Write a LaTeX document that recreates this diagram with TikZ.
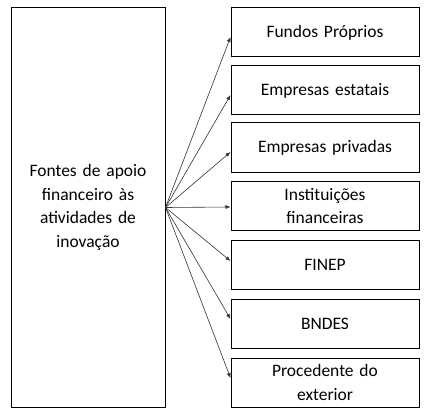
\documentclass[tikz,border=0pt]{standalone}
\usepackage{fontspec}
\setmainfont{Carlito}
\usetikzlibrary{arrows.meta}

\begin{document}
\begin{tikzpicture}[x=1pt, y=-1pt,
    src/.style={draw, line width=1pt, minimum width=154pt, minimum height=399pt,
                text width=150pt, align=center, inner sep=0pt,
                font=\fontsize{17.5}{23.5}\selectfont},
    dst/.style={draw, line width=1pt, minimum width=188pt, minimum height=49pt,
                text width=184pt, align=center, inner sep=0pt,
                font=\fontsize{17.5}{23.5}\selectfont},
    link/.style={-{Latex[length=5pt, width=4pt]}, line width=0.6pt, black!80},
]
    \useasboundingbox (0,0) rectangle (430,414);

    % Source box
    \node[src] (fontes) at (88, 207.5) {Fontes de apoio\\financeiro às\\atividades de\\inovação};

    % Targets
    \node[dst] (proprios) at (325, 32.5) {Fundos Próprios};
    \node[dst] (estatais) at (325, 90.5) {Empresas estatais};
    \node[dst] (privadas) at (325, 147.5) {Empresas privadas};
    \node[dst] (financ) at (325, 206) {Instituições\\financeiras};
    \node[dst] (finep) at (325, 264.5) {FINEP};
    \node[dst] (bndes) at (325, 323.5) {BNDES};
    \node[dst] (exterior) at (325, 382.5) {Procedente do\\exterior};

    % Links
    \draw[link] (fontes.east) -- ([yshift=-4.5pt]proprios.west);
    \draw[link] (fontes.east) -- ([yshift=-4.5pt]estatais.west);
    \draw[link] (fontes.east) -- ([yshift=-4.5pt]privadas.west);
    \draw[link] (fontes.east) -- ([yshift=-1pt]financ.west);
    \draw[link] (fontes.east) -- ([yshift=3.5pt]finep.west);
    \draw[link] (fontes.east) -- ([yshift=4.5pt]bndes.west);
    \draw[link] (fontes.east) -- ([yshift=4.5pt]exterior.west);
\end{tikzpicture}
\end{document}
